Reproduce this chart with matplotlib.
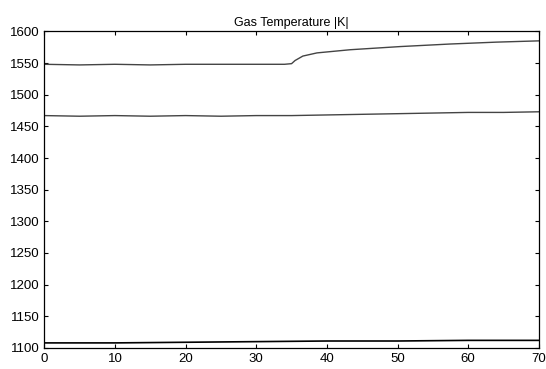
import matplotlib
matplotlib.use('Agg')
import matplotlib.pyplot as plt

plt.rcParams['font.family'] = ['Liberation Sans', 'DejaVu Sans']

# valores
time_upper = [0, 5, 10, 15, 20, 25, 30, 34, 35, 35.5, 36.6, 38.6, 43.3, 50.4, 57.4, 64, 70]
temp_upper = [1548, 1547, 1548, 1547, 1548, 1548, 1548, 1548, 1549, 1554, 1561, 1566, 1571, 1576, 1580, 1583, 1585]

time_mid = [0, 5, 10, 15, 20, 25, 30, 35, 40, 45, 50, 55, 60, 65, 70]
temp_mid = [1467, 1466, 1467, 1466, 1467, 1466, 1467, 1467, 1468, 1469, 1470, 1471, 1472, 1472, 1473]

time_low = [0, 10, 20, 30, 40, 50, 60, 70]
temp_low = [1108, 1108, 1109, 1110, 1111, 1111, 1112, 1112]

fig = plt.figure(figsize=(5.46, 3.69), dpi=100)
ax = fig.add_axes([0.081, 0.057, 0.906, 0.858])

ax.plot(time_upper, temp_upper, color='#444444', linewidth=1.0)
ax.plot(time_mid, temp_mid, color='#444444', linewidth=1.0)
ax.plot(time_low, temp_low, color='black', linewidth=1.2)

ax.set_xlim(0, 70)
ax.set_ylim(1100, 1600)
ax.set_xticks(range(0, 71, 10))
ax.set_yticks(range(1100, 1601, 50))
ax.tick_params(direction='in', top=True, right=True, labelsize=9.5, length=3)
ax.set_title('Gas Temperature |K|', fontsize=9, pad=4)

for s in ax.spines.values():
    s.set_linewidth(0.9)

fig.savefig('out.png', dpi=100)
